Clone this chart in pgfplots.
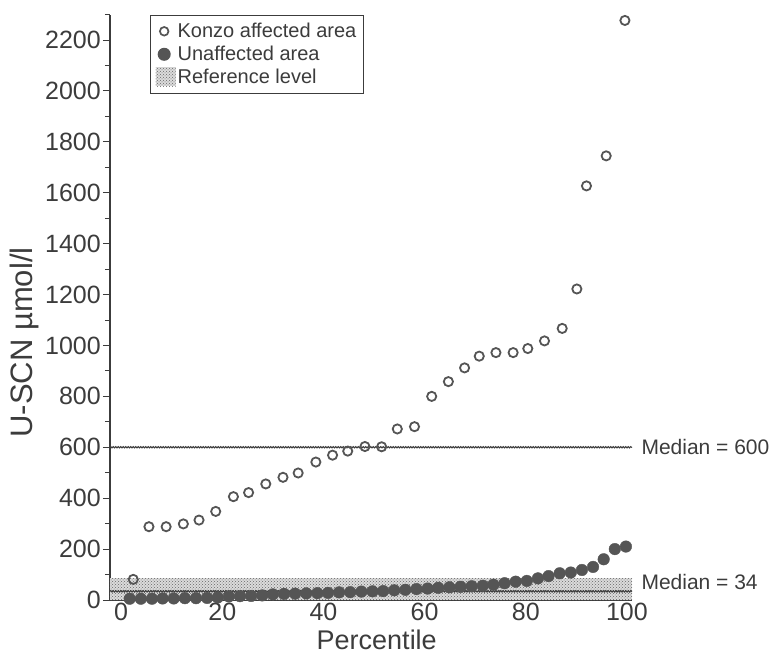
\documentclass[border=0pt]{standalone}
\usepackage{fontspec}
\setmainfont{Liberation Sans}
\usepackage{pgfplots}
\pgfplotsset{compat=1.18}
\usetikzlibrary{decorations.pathmorphing,patterns}
\definecolor{ink}{HTML}{3C3C3C}
\definecolor{mk}{HTML}{555555}
\begin{document}
\begin{tikzpicture}
\begin{axis}[name=ax,
  scale only axis, width=522pt, height=585.4pt,
  xmin=-2.2, xmax=101, ymin=0, ymax=2300,
  axis x line*=bottom, axis y line*=left,
  axis line style={ink, line width=1.2pt},
  xtick={0,20,...,100}, minor xtick={10,30,...,90},
  ytick={0,200,...,2200}, minor ytick={100,300,...,2300},
  xtick align=inside, ytick align=outside,
  major tick length=7pt, minor tick length=5pt,
  every tick/.style={ink, line width=1pt},
  /pgf/number format/assume math mode=true,
  /pgf/number format/1000 sep={},
  tick label style={font=\fontsize{25}{25}\selectfont, text=ink},
  yticklabel style={inner xsep=2pt},
  xlabel={Percentile}, ylabel={U-SCN µmol/l},
  xlabel style={font=\fontsize{27}{27}\selectfont, text=ink, at={(axis description cs:0.511,-0.068)}, anchor=center},
  ylabel style={font=\fontsize{31}{31}\selectfont, text=ink, at={(axis description cs:-0.163,0.44)}, anchor=center},
  clip=false,
  legend style={at={(axis cs:5.7,2300)}, anchor=north west, draw=ink, line width=1.4pt,
    font=\fontsize{20}{22}\selectfont, text=ink, inner xsep=5pt, inner ysep=6pt,
    row sep=3pt, cells={anchor=west}},
  legend cell align=left,
]
\addlegendimage{only marks, mark=o, mark size=4.3pt, mark options={mk, line width=1.7pt}}
\addlegendentry{Konzo affected area}
\addlegendimage{only marks, mark=*, mark size=5.8pt, mark options={mk, fill=mk, draw=mk}}
\addlegendentry{Unaffected area}
\addlegendimage{legend image code/.code={
  \path[fill=black!14, draw=none] (0pt,-9pt) rectangle (20pt,10pt);
  \path[pattern=crosshatch dots, pattern color=black!60, draw=none] (0pt,-9pt) rectangle (20pt,10pt);}}
\addlegendentry{Reference level}

% reference band
\addplot[draw=none, fill=black!14, forget plot] coordinates {(-2.2,86) (101,86)} \closedcycle;
\addplot[draw=none, pattern=crosshatch dots, pattern color=black!60, forget plot] coordinates {(-2.2,86) (101,86)} \closedcycle;

% median lines
\addplot[ink, line width=1pt, decorate, decoration={snake, amplitude=0.7pt, segment length=2.5pt}, forget plot]
  coordinates {(-2.2,600) (101,600)};
\addplot[ink, line width=1pt, decorate, decoration={snake, amplitude=0.7pt, segment length=2.5pt}, forget plot]
  coordinates {(-2.2,34) (101,34)};

% unaffected area
\addplot[only marks, mark=*, mark size=5.8pt, mark options={mk, fill=mk, draw=mk}, forget plot] coordinates {
(1.7,5) (3.9,5) (6.1,5) (8.2,6) (10.4,6) (12.6,7) (14.8,7) (17.0,8) (19.1,10)
(21.3,14) (23.5,15) (25.7,16) (27.9,18) (30.0,22) (32.2,24) (34.4,25) (36.6,26)
(38.8,27) (40.9,28) (43.1,30) (45.3,31) (47.5,33) (49.7,34) (51.8,35) (54.0,38)
(56.2,40) (58.4,43) (60.6,45) (62.7,48) (64.9,50) (67.1,52) (69.3,54) (71.5,56)
(73.6,60) (75.8,66) (78.0,72) (80.2,75) (82.4,85) (84.5,94) (86.7,105) (88.9,108)
(91.1,118) (93.3,130) (95.4,160) (97.6,200) (99.8,210)
};

% konzo affected area
\addplot[only marks, mark=o, mark size=4.6pt, mark options={mk, line width=1.8pt}, forget plot] coordinates {
(2.4,81) (5.5,288) (8.9,288) (12.3,299) (15.4,314) (18.7,348) (22.2,406) (25.2,422)
(28.6,456) (32.0,482) (35.0,499) (38.5,542) (41.8,569) (44.8,585) (48.2,603) (51.5,602)
(54.6,672) (58.0,681) (61.4,800) (64.7,858) (67.9,912) (70.8,958) (74.1,972) (77.5,972)
(80.4,988) (83.7,1018) (87.2,1067) (90.1,1222) (92.0,1627) (95.9,1745) (99.6,2277)
};

\node[anchor=west, text=ink, font=\fontsize{21}{21}\selectfont] at (axis cs:101,600) {\hspace{6pt}Median = 600};
\node[anchor=west, text=ink, font=\fontsize{21}{21}\selectfont] at (axis cs:101,72) {\hspace{6pt}Median = 34};
\end{axis}
\pgfresetboundingbox
\path ([shift={(-110pt,-58pt)}]ax.south west) rectangle ([shift={(141pt,14.6pt)}]ax.north east);
\end{tikzpicture}
\end{document}
